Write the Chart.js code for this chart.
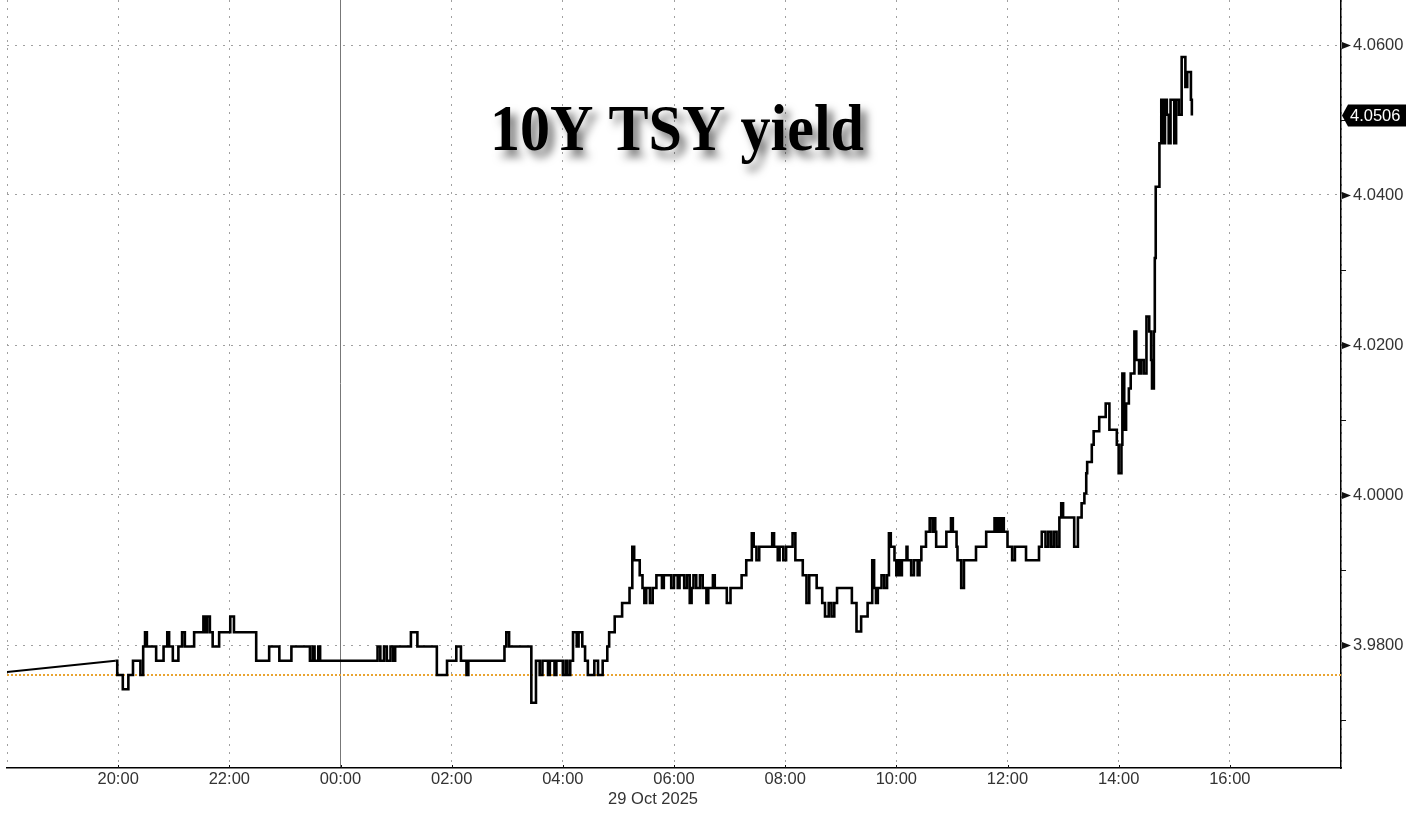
<!DOCTYPE html>
<html>
<head>
<meta charset="utf-8">
<script src="https://cdn.jsdelivr.net/npm/chart.js@4.4.1/dist/chart.umd.min.js"></script>
<style>
  html, body { margin: 0; padding: 0; background: #fff; }
  canvas { display: block; }
</style>
</head>
<body>
<canvas id="chart" width="1424" height="826"></canvas>
<script>
// 10Y TSY yield, 28 Oct 18:00 -> 29 Oct 18:00 (intraday)
var chartTitle = "10Y TSY yield";
var dateLabel = "29 Oct 2025";
var prevClose = 3.9760;
var lastValue = 4.0506;

// overnight gap, drawn as a straight line
var gapTimes = ["18:00", "19:57"];
var gapValues = [3.9764, 3.9779];

// ticks after the gap, drawn as steps
var tickTimes = [
  "19:57","19:59","20:05","20:11","20:16","20:24","20:27","20:29","20:31","20:41",
  "20:49","20:53","20:55","20:59","21:05","21:09","21:12","21:22","21:32","21:34",
  "21:36","21:39","21:42","21:49","22:01","22:05","22:29","22:43","22:54","23:07",
  "23:27","23:30","23:32","23:36","23:38","00:40","00:43","00:47","00:50","00:54",
  "00:57","00:59","01:16","01:23","01:44","01:55","02:05","02:10","02:16","02:18",
  "02:57","02:59","03:02","03:26","03:31","03:35","03:38","03:44","03:46","03:51",
  "03:53","04:00","04:03","04:05","04:08","04:11","04:15","04:17","04:21","04:24",
  "04:27","04:34","04:38","04:43","04:48","04:50","04:56","05:04","05:12","05:15",
  "05:17","05:23","05:26","05:28","05:30","05:34","05:37","05:41","05:47","05:49",
  "05:57","06:00","06:04","06:06","06:11","06:14","06:17","06:19","06:21","06:24",
  "06:28","06:31","06:35","06:37","06:42","06:44","06:57","07:01","07:13","07:18",
  "07:24","07:26","07:29","07:32","07:46","07:48","07:52","07:54","07:58","08:01",
  "08:08","08:11","08:19","08:23","08:26","08:34","08:40","08:43","08:47","08:50",
  "08:53","08:56","09:12","09:17","09:22","09:29","09:34","09:36","09:38","09:40",
  "09:44","09:47","09:50","09:52","09:54","09:58","10:00","10:02","10:04","10:06",
  "10:11","10:12","10:16","10:19","10:23","10:25","10:27","10:32","10:36","10:39",
  "10:40","10:42","10:43","10:54","10:59","11:01","11:05","11:06","11:10","11:13",
  "11:26","11:37","11:46","11:48","11:50","11:52","11:54","11:56","12:00","12:05",
  "12:08","12:20","12:34","12:37","12:41","12:44","12:47","12:50","12:53","12:56",
  "12:58","13:00","13:12","13:16","13:20","13:23","13:25","13:26","13:31","13:33",
  "13:39","13:46","13:50","13:58","14:00","14:03","14:04","14:06","14:08","14:11",
  "14:13","14:17","14:19","14:22","14:24","14:27","14:30","14:33","14:35","14:36",
  "14:38","14:39","14:40","14:44","14:46","14:48","14:50","14:52","14:54","14:56",
  "15:00","15:02","15:05","15:08","15:12","15:14","15:18","15:19"
];
var tickValues = [
  3.9779,3.9760,3.9741,3.9760,3.9779,3.9760,3.9798,3.9817,3.9798,3.9779,
  3.9798,3.9817,3.9798,3.9779,3.9798,3.9817,3.9798,3.9817,3.9838,3.9817,
  3.9838,3.9817,3.9798,3.9817,3.9838,3.9817,3.9779,3.9798,3.9779,3.9798,
  3.9779,3.9798,3.9779,3.9798,3.9779,3.9798,3.9779,3.9798,3.9779,3.9798,
  3.9779,3.9798,3.9817,3.9798,3.9760,3.9779,3.9798,3.9779,3.9760,3.9779,
  3.9798,3.9817,3.9798,3.9723,3.9779,3.9760,3.9779,3.9760,3.9779,3.9760,
  3.9779,3.9760,3.9779,3.9760,3.9779,3.9817,3.9798,3.9817,3.9798,3.9779,
  3.9760,3.9779,3.9760,3.9779,3.9798,3.9817,3.9838,3.9856,3.9876,3.9931,
  3.9913,3.9893,3.9876,3.9856,3.9876,3.9856,3.9876,3.9893,3.9876,3.9893,
  3.9876,3.9893,3.9876,3.9893,3.9876,3.9893,3.9856,3.9876,3.9893,3.9876,
  3.9893,3.9876,3.9856,3.9876,3.9893,3.9876,3.9856,3.9876,3.9893,3.9913,
  3.9949,3.9931,3.9913,3.9931,3.9949,3.9931,3.9913,3.9931,3.9913,3.9931,
  3.9949,3.9913,3.9893,3.9856,3.9893,3.9876,3.9856,3.9838,3.9856,3.9838,
  3.9856,3.9876,3.9856,3.9818,3.9838,3.9856,3.9913,3.9876,3.9856,3.9876,
  3.9893,3.9876,3.9893,3.9949,3.9931,3.9913,3.9893,3.9913,3.9893,3.9913,
  3.9931,3.9913,3.9893,3.9913,3.9893,3.9913,3.9931,3.9951,3.9969,3.9951,
  3.9969,3.9951,3.9931,3.9951,3.9969,3.9951,3.9931,3.9913,3.9876,3.9913,
  3.9931,3.9951,3.9969,3.9951,3.9969,3.9951,3.9969,3.9951,3.9931,3.9913,
  3.9931,3.9913,3.9931,3.9951,3.9931,3.9951,3.9931,3.9951,3.9931,3.9970,
  3.9989,3.9970,3.9931,3.9970,3.9989,4.0002,4.0029,4.0044,4.0067,4.0085,
  4.0104,4.0122,4.0087,4.0067,4.0029,4.0067,4.0162,4.0087,4.0122,4.0142,
  4.0162,4.0218,4.0180,4.0162,4.0180,4.0162,4.0238,4.0218,4.0180,4.0142,
  4.0218,4.0316,4.0411,4.0469,4.0527,4.0469,4.0527,4.0507,4.0469,4.0527,
  4.0469,4.0527,4.0507,4.0584,4.0544,4.0564,4.0527,4.0506
];

var xLabelTimes = ["20:00","22:00","00:00","02:00","04:00","06:00","08:00","10:00","12:00","14:00","16:00"];
var yLabelValues = [3.98, 4.00, 4.02, 4.04, 4.06];

// minutes after 28 Oct 18:00
function toMin(t) {
  var p = t.split(":");
  var m = parseInt(p[0], 10) * 60 + parseInt(p[1], 10) - 18 * 60;
  return m < 0 ? m + 1440 : m;
}
function fmtTime(v) {
  var m = (v + 18 * 60) % 1440;
  var h = Math.floor(m / 60), mm = m % 60;
  return (h < 10 ? "0" : "") + h + ":" + (mm < 10 ? "0" : "") + mm;
}
function isMajorY(v) {
  return yLabelValues.some(function (y) { return Math.abs(y - v) < 1e-6; });
}
function noPad(s) {
  s.paddingTop = 0; s.paddingBottom = 0; s.paddingLeft = 0; s.paddingRight = 0;
}

var gapPoints = gapTimes.map(function (t, i) { return { x: toMin(t), y: gapValues[i] }; });
var tickPoints = tickTimes.map(function (t, i) { return { x: toMin(t), y: tickValues[i] }; });
var xLabelMins = xLabelTimes.map(toMin);
var midnight = toMin("00:00");

var axisFont = { family: "'Liberation Sans', Arial, sans-serif", size: 16.5 };
var gridGrey = "#a0a0a0";

var decorations = {
  id: "decorations",
  afterDraw: function (chart) {
    var ctx = chart.ctx, x = chart.scales.x, y = chart.scales.y;
    var ax = chart.chartArea.right;
    ctx.save();

    // y axis markers
    ctx.fillStyle = "#111";
    ctx.strokeStyle = "#111";
    ctx.lineWidth = 1;
    y.ticks.forEach(function (tk) {
      var py = Math.round(y.getPixelForValue(tk.value)) + 0.5;
      if (isMajorY(tk.value)) {
        ctx.beginPath();
        ctx.moveTo(ax + 1, py - 3.5);
        ctx.lineTo(ax + 10, py);
        ctx.lineTo(ax + 1, py + 3.5);
        ctx.closePath();
        ctx.fill();
      } else {
        ctx.beginPath();
        ctx.moveTo(ax, py);
        ctx.lineTo(ax + 5, py);
        ctx.stroke();
      }
    });

    // x axis small ticks on label hours (upwards)
    var by = chart.chartArea.bottom;
    xLabelMins.forEach(function (m) {
      var px = Math.round(x.getPixelForValue(m)) + 0.5;
      ctx.beginPath();
      ctx.moveTo(px, by);
      ctx.lineTo(px, by - 3);
      ctx.stroke();
    });

    // date under the axis
    ctx.font = axisFont.size + "px " + axisFont.family;
    ctx.fillStyle = "#333";
    ctx.textAlign = "right";
    ctx.textBaseline = "middle";
    ctx.fillText(dateLabel, x.getPixelForValue(toMin("06:00")) + 24, 799);

    // last value tag
    var ly = y.getPixelForValue(lastValue);
    ctx.fillStyle = "#000";
    ctx.beginPath();
    ctx.moveTo(ax + 1, ly);
    ctx.lineTo(ax + 7, ly - 11);
    ctx.lineTo(1406, ly - 11);
    ctx.lineTo(1406, ly + 11);
    ctx.lineTo(ax + 7, ly + 11);
    ctx.closePath();
    ctx.fill();
    ctx.fillStyle = "#fff";
    ctx.textAlign = "left";
    ctx.fillText(lastValue.toFixed(4), ax + 9, ly + 1);

    // title with soft shadow
    ctx.font = "bold 66px 'Liberation Serif', 'DejaVu Serif', serif";
    var w = ctx.measureText(chartTitle).width;
    ctx.translate(677, 150);
    ctx.scale(374 / w, 1);
    ctx.shadowColor = "rgba(0,0,0,0.55)";
    ctx.shadowBlur = 9;
    ctx.shadowOffsetX = 6;
    ctx.shadowOffsetY = 7;
    ctx.fillStyle = "#000";
    ctx.textAlign = "center";
    ctx.textBaseline = "alphabetic";
    ctx.fillText(chartTitle, 0, 0);
    ctx.restore();
  }
};

var ctx = document.getElementById("chart").getContext("2d");
var chart = new Chart(ctx, {
  type: "line",
  data: {
    datasets: [
      {
        label: "gap",
        data: gapPoints,
        borderColor: "#000",
        borderWidth: 2,
        pointRadius: 0,
        fill: false
      },
      {
        label: "10Y",
        data: tickPoints,
        stepped: true,
        borderColor: "#000",
        borderWidth: 2.6,
        pointRadius: 0,
        fill: false
      },
      {
        label: "prev close",
        data: [{ x: 0, y: prevClose }, { x: 1440, y: prevClose }],
        borderColor: "#e9a431",
        borderWidth: 2,
        borderDash: [2, 2],
        pointRadius: 0,
        fill: false
      }
    ]
  },
  options: {
    responsive: false,
    animation: false,
    devicePixelRatio: 1,
    layout: { autoPadding: false, padding: { left: 7, top: 0, right: 0, bottom: 0 } },
    plugins: {
      legend: { display: false },
      tooltip: { enabled: false },
      title: { display: false }
    },
    scales: {
      x: {
        type: "linear",
        min: 0,
        max: 1440,
        afterFit: function (s) { s.height = 58; noPad(s); },
        ticks: {
          stepSize: 60,
          autoSkip: false,
          maxRotation: 0,
          padding: 2,
          color: "#333",
          font: axisFont,
          callback: function (v) {
            return xLabelMins.indexOf(v) >= 0 ? fmtTime(v) : "";
          }
        },
        grid: {
          color: function (c) {
            if (!c.tick) return "transparent";
            if (c.tick.value === midnight) return "#777";
            return c.tick.value % 120 === 0 ? gridGrey : "transparent";
          },
          lineWidth: 1,
          drawTicks: false
        },
        border: {
          display: true,
          color: "#000",
          width: 1.5,
          dash: function (c) {
            return c.tick && c.tick.value === midnight ? [] : [2, 6];
          }
        }
      },
      y: {
        position: "right",
        min: 3.9636,
        max: 4.066,
        afterFit: function (s) { s.width = 83; noPad(s); },
        ticks: {
          stepSize: 0.01,
          includeBounds: false,
          padding: 12,
          color: "#333",
          font: axisFont,
          callback: function (v) {
            return isMajorY(v) ? v.toFixed(4) : "";
          }
        },
        grid: {
          color: function (c) {
            if (!c.tick) return "transparent";
            return isMajorY(c.tick.value) ? gridGrey : "transparent";
          },
          lineWidth: 1,
          drawTicks: false
        },
        border: {
          display: true,
          color: "#000",
          width: 1.5,
          dash: [2, 6]
        }
      }
    }
  },
  plugins: [decorations]
});
</script>
</body>
</html>
